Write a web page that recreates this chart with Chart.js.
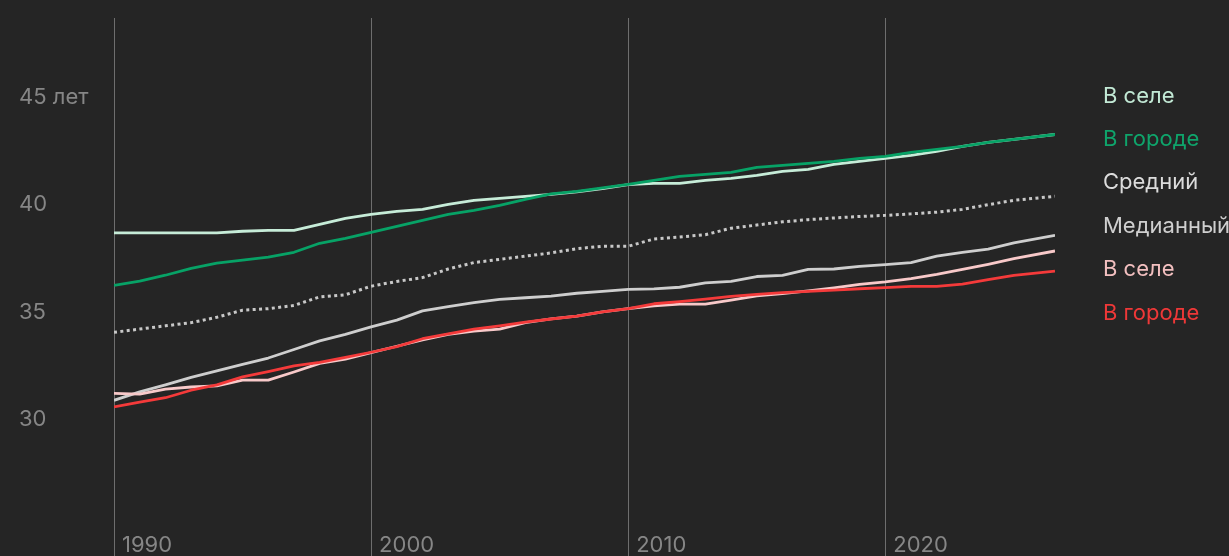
<!DOCTYPE html>
<html>
<head>
<meta charset="utf-8">
<script src="https://cdn.jsdelivr.net/npm/chart.js@4.4.1/dist/chart.umd.min.js"></script>
<style>
  html, body { margin: 0; padding: 0; background: #252525; }
  #wrap { width: 1229px; height: 556px; position: relative; }
</style>
</head>
<body>
<div id="wrap"><canvas id="chartAge"></canvas></div>
<script>
const years = [
  1990, 1991, 1992, 1993, 1994, 1995, 1996, 1997, 1998, 1999,
  2000, 2001, 2002, 2003, 2004, 2005, 2006, 2007, 2008, 2009,
  2010, 2011, 2012, 2013, 2014, 2015, 2016, 2017, 2018, 2019,
  2020, 2021, 2022, 2023, 2024, 2025, 2026.6,
];

// средний возраст
const meanRural = [
  38.68, 38.68, 38.68, 38.68, 38.68, 38.76, 38.8, 38.8, 39.08, 39.36,
  39.55, 39.69, 39.78, 40.01, 40.2, 40.29, 40.39, 40.48, 40.6, 40.75,
  40.93, 40.99, 40.99, 41.13, 41.22, 41.36, 41.55, 41.64, 41.88, 42.02,
  42.16, 42.3, 42.48, 42.72, 42.9, 43.04, 43.27,
];
const meanUrban = [
  36.24, 36.43, 36.71, 37.03, 37.27, 37.41, 37.55, 37.78, 38.2, 38.43,
  38.71, 38.99, 39.27, 39.55, 39.73, 39.97, 40.25, 40.5, 40.62, 40.78,
  40.95, 41.13, 41.32, 41.41, 41.5, 41.74, 41.83, 41.92, 42.02, 42.16,
  42.25, 42.44, 42.58, 42.72, 42.9, 43.04, 43.27,
];
const meanAll = [
  34.05, 34.2, 34.35, 34.5, 34.75, 35.08, 35.15, 35.3, 35.7, 35.8,
  36.2, 36.42, 36.6, 37.0, 37.3, 37.45, 37.6, 37.75, 37.95, 38.06,
  38.06, 38.4, 38.49, 38.6, 38.9, 39.05, 39.2, 39.3, 39.38, 39.45,
  39.5, 39.57, 39.65, 39.78, 40.0, 40.2, 40.39,
];

// медианный возраст
const medianAll = [
  30.88, 31.27, 31.6, 31.95, 32.25, 32.55, 32.85, 33.25, 33.65, 33.95,
  34.3, 34.62, 35.05, 35.25, 35.43, 35.58, 35.66, 35.74, 35.87, 35.96,
  36.05, 36.07, 36.15, 36.35, 36.42, 36.65, 36.7, 36.98, 37.0, 37.12,
  37.2, 37.3, 37.6, 37.78, 37.93, 38.22, 38.57,
];
const medianRural = [
  31.2, 31.17, 31.4, 31.5, 31.55, 31.82, 31.82, 32.2, 32.6, 32.8,
  33.1, 33.4, 33.7, 33.95, 34.1, 34.2, 34.5, 34.68, 34.8, 35.0,
  35.15, 35.28, 35.36, 35.36, 35.55, 35.75, 35.85, 35.98, 36.12, 36.28,
  36.4, 36.55, 36.75, 36.98, 37.22, 37.48, 37.84,
];
const medianUrban = [
  30.57, 30.8, 31.0, 31.35, 31.6, 31.97, 32.22, 32.48, 32.65, 32.88,
  33.12, 33.38, 33.75, 33.98, 34.2, 34.35, 34.52, 34.67, 34.8, 35.0,
  35.15, 35.38, 35.48, 35.6, 35.72, 35.82, 35.9, 35.96, 36.02, 36.08,
  36.13, 36.19, 36.19, 36.3, 36.5, 36.7, 36.9,
];

const xTicks = [1990, 2000, 2010, 2020];
const yTicks = [30, 35, 40, 45];

const tickColor = "#868686";
const gridColor = "#6e6e6e";
const fontFamily = "Inter, 'Noto Sans', sans-serif";

function points(values) {
  return values.map((v, i) => ({ x: years[i], y: v }));
}

// подписи справа, как легенда
const sideLabels = {
  id: "sideLabels",
  afterDraw(chart) {
    const ctx = chart.ctx;
    ctx.save();
    ctx.font = "22px " + fontFamily;
    ctx.textBaseline = "middle";
    ctx.textAlign = "left";
    chart.data.datasets.forEach((ds, i) => {
      ctx.fillStyle = ds.labelColor;
      ctx.fillText(ds.label, 1103, 96 + i * 43.4);
    });
    ctx.restore();
  },
};

const chartAge = new Chart(document.getElementById("chartAge"), {
  type: "line",
  data: {
    datasets: [
      {
        label: "В селе",
        data: points(meanRural),
        borderColor: "#c6ecd8",
        labelColor: "#c2e9d5",
        borderWidth: 2.8,
        order: 5,
      },
      {
        label: "В городе",
        data: points(meanUrban),
        borderColor: "#07a266",
        labelColor: "#0fa46b",
        borderWidth: 2.8,
        order: 4,
      },
      {
        label: "Средний",
        data: points(meanAll),
        borderColor: "#c8c8c8",
        labelColor: "#dcdcdc",
        borderWidth: 3,
        borderDash: [3, 3.4],
        borderCapStyle: "butt",
        order: 3,
      },
      {
        label: "Медианный",
        data: points(medianAll),
        borderColor: "#cecece",
        labelColor: "#cfcfcf",
        borderWidth: 2.8,
        order: 2,
      },
      {
        label: "В селе",
        data: points(medianRural),
        borderColor: "#f8c9c9",
        labelColor: "#f2bfbf",
        borderWidth: 2.8,
        order: 1,
      },
      {
        label: "В городе",
        data: points(medianUrban),
        borderColor: "#f43a3a",
        labelColor: "#ee3838",
        borderWidth: 2.8,
        order: 0,
      },
    ],
  },
  options: {
    responsive: true,
    maintainAspectRatio: false,
    animation: false,
    layout: { padding: { top: 18, right: 174, left: 19, bottom: 0 } },
    elements: {
      point: { radius: 0, hoverRadius: 0 },
      line: { tension: 0, borderJoinStyle: "round" },
    },
    plugins: {
      legend: { display: false },
      tooltip: { enabled: false },
    },
    scales: {
      x: {
        type: "linear",
        min: 1990,
        max: 2026.6,
        afterBuildTicks: (scale) => {
          scale.ticks = xTicks.map((v) => ({ value: v }));
        },
        afterFit: (scale) => {
          scale.height = 51;
        },
        border: { display: false },
        grid: {
          color: gridColor,
          lineWidth: 1,
          drawTicks: true,
          tickLength: 51,
        },
        ticks: {
          color: tickColor,
          font: { family: fontFamily, size: 22 },
          align: "start",
          labelOffset: 8,
          padding: -24,
          maxRotation: 0,
          autoSkip: false,
          callback: (v) => String(v),
        },
      },
      y: {
        min: 26,
        max: 48.7,
        afterBuildTicks: (scale) => {
          scale.ticks = yTicks.map((v) => ({ value: v }));
        },
        afterFit: (scale) => {
          scale.width = 95;
        },
        border: { display: false },
        grid: { display: false },
        ticks: {
          color: tickColor,
          font: { family: fontFamily, size: 22 },
          crossAlign: "far",
          callback: (v) => (v === 45 ? "45 лет" : String(v)),
        },
      },
    },
  },
  plugins: [sideLabels],
});
</script>
</body>
</html>
